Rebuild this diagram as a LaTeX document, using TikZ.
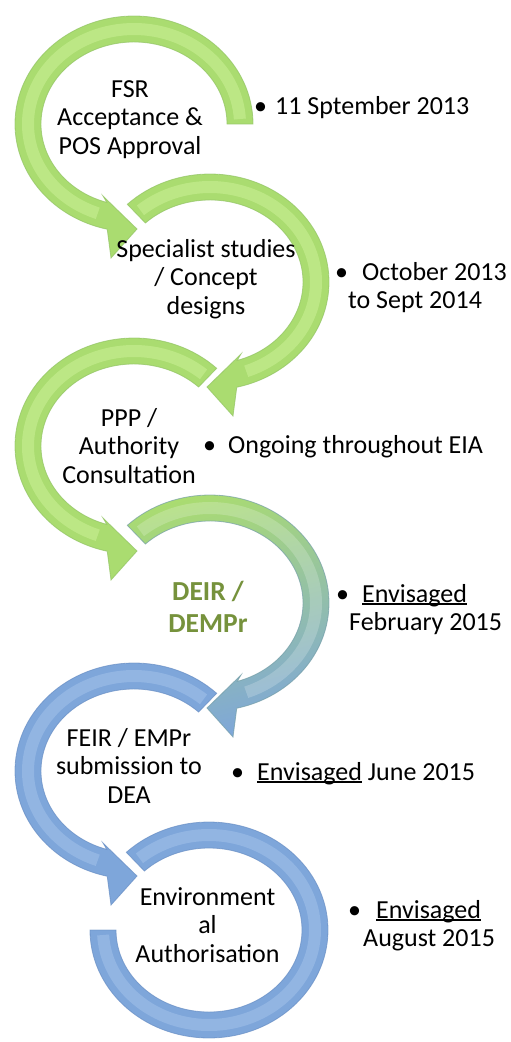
\documentclass[tikz,border=0pt]{standalone}
\usepackage{fontspec}
\setmainfont{Carlito}
\definecolor{gfill}{RGB}{170,220,112}
\definecolor{ghl}{RGB}{212,246,160}
\definecolor{gedge}{RGB}{145,195,100}
\definecolor{bfill}{RGB}{126,166,218}
\definecolor{bhl}{RGB}{176,204,240}
\definecolor{bedge}{RGB}{104,142,196}
\definecolor{tealmid}{RGB}{138,200,214}
\definecolor{deirgreen}{RGB}{118,146,60}
\newcommand{\ulw}[1]{\setbox0=\hbox{#1}\rlap{\rule[-2.6pt]{\wd0}{1.2pt}}\box0\relax}
\newcommand{\lns}[1]{\begin{tabular}[t]{@{}c@{}}#1\end{tabular}}
\newcommand{\llns}[1]{\begin{tabular}[t]{@{}l@{}}#1\end{tabular}}
% left ring: counterclockwise, arrowhead at bottom pointing right
\newcommand{\leftringpath}[3]{%
  ({#1+119*cos(#3)},{#2+108*sin(#3)})
  arc[start angle=#3, end angle=257, x radius=119pt, y radius=108pt]
  -- ({#1-23},{#2-134}) -- ({#1+3},{#2-105}) -- ({#1-31},{#2-72})
  -- ({#1+93*cos(253)},{#2+82*sin(253)})
  arc[start angle=253, end angle=#3, x radius=93pt, y radius=82pt] -- cycle}
% right ring: clockwise, arrowhead at bottom pointing left
\newcommand{\rightringpath}[3]{%
  ({#1+119*cos(#3)},{#2+108*sin(#3)})
  arc[start angle=#3, end angle=-77, x radius=119pt, y radius=108pt]
  -- ({#1+23},{#2-134}) -- ({#1-3},{#2-105}) -- ({#1+31},{#2-72})
  -- ({#1+93*cos(-73)},{#2+82*sin(-73)})
  arc[start angle=-73, end angle=#3, x radius=93pt, y radius=82pt] -- cycle}
\tikzset{
  gring/.style={fill=gfill, draw=gedge, line width=0.8pt, draw opacity=0.7},
  bring/.style={fill=bfill, draw=bedge, line width=0.8pt, draw opacity=0.7},
  ghigh/.style={draw=ghl, line width=12pt, opacity=0.45},
  bhigh/.style={draw=bhl, line width=12pt, opacity=0.4},
  ctext/.style={anchor=base, inner sep=0pt, font=\fontsize{26}{28.5}\selectfont},
  rtext/.style={anchor=base west, inner sep=0pt, font=\fontsize{26}{28.5}\selectfont},
}
\begin{document}
\begin{tikzpicture}[x=1pt, y=1pt]
\useasboundingbox (0,0) rectangle (511,-1042);
\fill[white] (0,0) rectangle (511,-1042);
% ring 1
\path[gring] \leftringpath{134}{-124}{0};
\draw[ghigh] ({134+106*cos(3)},{-124+95*sin(3)}) arc[start angle=3, end angle=250, x radius=106pt, y radius=95pt];
% ring 2
\path[gring] \rightringpath{210}{-282}{134};
\draw[ghigh] ({210+106*cos(131)},{-282+95*sin(131)}) arc[start angle=131, end angle=-70, x radius=106pt, y radius=95pt];
% ring 3
\path[gring] \leftringpath{134}{-446}{46};
\draw[ghigh] ({134+106*cos(49)},{-446+95*sin(49)}) arc[start angle=49, end angle=250, x radius=106pt, y radius=95pt];
% ring 4 (green to blue)
\shade[top color=gfill, middle color=tealmid, bottom color=bfill, shading angle=15, draw=bedge!70!gedge, line width=0.8pt, draw opacity=0.7] \rightringpath{210}{-603}{134};
\draw[draw=white, line width=12pt, opacity=0.2] ({210+106*cos(131)},{-603+95*sin(131)}) arc[start angle=131, end angle=-70, x radius=106pt, y radius=95pt];
% ring 5
\path[bring] \leftringpath{134}{-771}{46};
\draw[bhigh] ({134+106*cos(49)},{-771+95*sin(49)}) arc[start angle=49, end angle=250, x radius=106pt, y radius=95pt];
% ring 6
\path[bring] ({209+119*cos(134)},{-930+108*sin(134)})
  arc[start angle=134, end angle=-180, x radius=119pt, y radius=108pt]
  -- ({209-93},{-930})
  arc[start angle=-180, end angle=134, x radius=93pt, y radius=82pt] -- cycle;
\draw[bhigh] ({209+106*cos(131)},{-930+95*sin(131)}) arc[start angle=131, end angle=-177, x radius=106pt, y radius=95pt];
% step texts
\node[ctext] (s1) at (130,-97) {\lns{FSR\\Acceptance \&\\POS Approval}};
\node[ctext] (s2) at (206,-257) {\lns{Specialist studies\\/ Concept\\designs}};
\node[ctext] (s3) at (129,-426) {\lns{PPP /\\Authority\\Consultation}};
\node[anchor=base, inner sep=0pt, text=deirgreen, font=\fontsize{27.5}{32}\selectfont\bfseries] (s4) at (208,-600) {\lns{DEIR /\\DEMPr}};
\node[ctext] (s5) at (129,-746) {\lns{FEIR / EMPr\\submission to\\DEA}};
\node[ctext] (s6) at (207.5,-905) {\lns{Environment\\al\\Authorisation}};
% dates
\node[rtext] (d1) at (254,-114) {\llns{\makebox[21pt][l]{•}11 Sptember 2013}};
\node[rtext] (d2) at (335,-280) {\llns{\makebox[27pt][l]{•}October 2013\\\hspace{13pt}to Sept 2014}};
\node[rtext] (d3) at (203,-453) {\llns{\makebox[25pt][l]{•}Ongoing throughout EIA}};
\node[rtext] (d4) at (336,-602) {\llns{\makebox[26pt][l]{•}\ulw{Envisaged}\\\hspace{13pt}February 2015}};
\node[rtext] (d5) at (231,-780) {\llns{\makebox[26pt][l]{•}\ulw{Envisaged} June 2015}};
\node[rtext] (d6) at (348,-918) {\llns{\makebox[28pt][l]{•}\ulw{Envisaged}\\\hspace{15pt}August 2015}};
\end{tikzpicture}
\end{document}
